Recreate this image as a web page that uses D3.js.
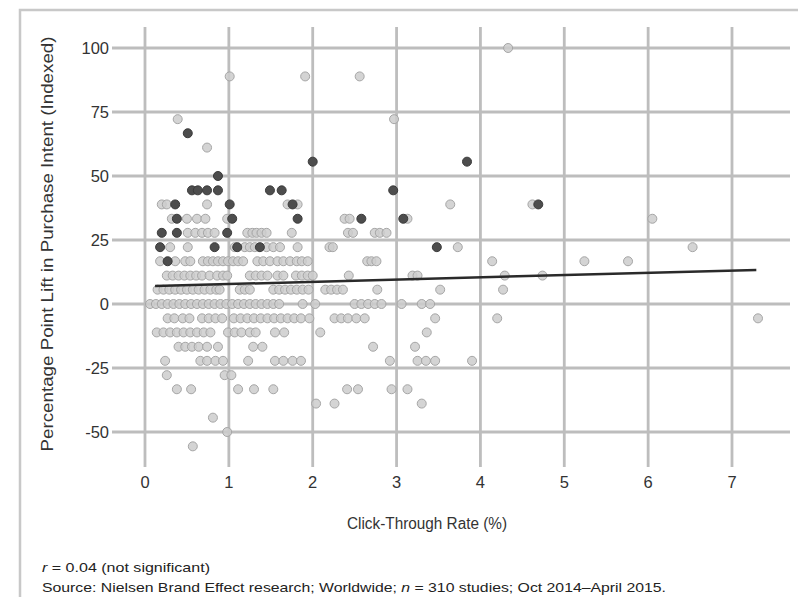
<!DOCTYPE html>
<html>
<head>
<meta charset="utf-8">
<script src="https://cdn.jsdelivr.net/npm/d3@7"></script>
<style>
  body{margin:0;background:#fff;}
  svg{display:block;font-family:"Liberation Sans",Arial,sans-serif;}
</style>
</head>
<body>
<svg id="chart" width="798" height="597"></svg>
<script>
// rows of studies: y value (indexed lift) -> click-through rates
const grayRows=[
  [100,[4.33]],
  [88.9,[1.01,1.91,2.56]],
  [72.2,[0.39,2.97]],
  [61.1,[0.74]],
  [38.9,[0.20,0.26,0.74,1.70,1.82,3.64,4.62]],
  [33.3,[0.32,0.50,0.62,0.72,0.98,2.38,2.44,3.13,6.05]],
  [27.8,[0.51,0.60,0.68,0.75,0.83,1.22,1.28,1.33,1.39,1.45,1.75,2.42,2.48,2.74,2.80,2.88]],
  [22.2,[0.30,0.51,1.07,1.19,1.25,1.31,1.45,1.53,1.61,1.82,2.20,2.24,3.73,6.53]],
  [16.7,[0.18,0.36,0.48,0.54,0.69,0.75,0.81,0.87,0.93,0.99,1.05,1.11,1.17,1.34,1.41,1.49,1.58,1.65,1.73,1.81,1.87,1.94,2.65,2.70,2.76,4.14,5.24,5.76]],
  [11.1,[0.26,0.33,0.40,0.47,0.54,0.61,0.68,0.77,0.86,0.93,0.98,1.25,1.32,1.39,1.46,1.58,1.65,1.80,1.87,1.94,2.00,2.43,3.19,3.25,4.29,4.74]],
  [5.6,[0.15,0.22,0.29,0.36,0.43,0.50,0.57,0.64,0.71,0.78,0.85,0.89,1.13,1.19,1.25,1.53,1.60,1.67,1.74,1.81,1.88,1.95,2.15,2.22,2.29,2.36,2.77,3.52,4.27]],
  [0,[0.06,0.13,0.20,0.27,0.34,0.41,0.48,0.55,0.62,0.69,0.76,0.83,0.90,0.97,1.04,1.11,1.18,1.25,1.32,1.39,1.46,1.53,1.60,1.88,2.03,2.50,2.58,2.66,2.74,2.82,3.06,3.30,3.40]],
  [-5.6,[0.27,0.35,0.45,0.53,0.68,0.76,0.84,0.92,1.06,1.14,1.22,1.30,1.38,1.46,1.54,1.62,1.70,1.78,1.86,1.96,2.26,2.34,2.42,2.52,2.62,3.46,4.20,7.31]],
  [-11.1,[0.14,0.22,0.30,0.38,0.46,0.54,0.62,0.70,0.78,0.99,1.07,1.15,1.25,1.32,1.55,1.66,2.09,3.36]],
  [-16.7,[0.40,0.48,0.56,0.64,0.74,0.87,1.29,1.40,2.72,3.22]],
  [-22.2,[0.24,0.66,0.74,0.84,0.93,1.23,1.55,1.65,1.76,1.86,2.92,3.25,3.35,3.46,3.90]],
  [-27.8,[0.26,0.95,1.03]],
  [-33.3,[0.38,0.55,1.11,1.30,1.53,2.41,2.54,2.94,3.13]],
  [-38.9,[2.04,2.26,3.30]],
  [-44.4,[0.81]],
  [-50,[0.98]],
  [-55.6,[0.57]]
];
const darkRows=[
  [66.7,[0.51]],
  [55.6,[2.00,3.84]],
  [50,[0.87]],
  [44.4,[0.56,0.63,0.74,0.87,1.49,1.63,2.96]],
  [38.9,[0.36,1.01,1.76,4.69]],
  [33.3,[0.38,1.04,1.82,2.58,3.08]],
  [27.8,[0.20,0.38,0.98]],
  [22.2,[0.18,0.83,1.10,1.37,3.48]],
  [16.7,[0.27]]
];
const trendLine=[[0.12,7.0],[7.29,13.3]];
const xTicks=[0,1,2,3,4,5,6,7];
const yTicks=[-50,-25,0,25,50,75,100];
const xTitle="Click-Through Rate (%)";
const yTitle="Percentage Point Lift in Purchase Intent (Indexed)";
const noteR="= 0.04 (not significant)";
const sourceText=["Source: Nielsen Brand Effect research; Worldwide; ","n"," = 310 studies; Oct 2014\u2013April 2015."];

const flat=rows=>rows.flatMap(([y,xs])=>xs.map(x=>({x,y})));
const grayPts=flat(grayRows), darkPts=flat(darkRows);

const svg=d3.select("#chart");
const x=d3.scaleLinear().domain([0,7]).range([145,732]);
const y=d3.scaleLinear().domain([-50,100]).range([432,48]);
const ink="#333", grid="#bdbdbd";

// outer frame
svg.append("rect").attr("x",20).attr("y",10).attr("width",800).attr("height",600)
  .attr("fill","none").attr("stroke","#c8c8c8").attr("stroke-width",2.5);

// grid
svg.append("g").selectAll("line").data(yTicks).enter().append("line")
  .attr("x1",112).attr("x2",790).attr("y1",d=>y(d)).attr("y2",d=>y(d))
  .attr("stroke",grid).attr("stroke-width",2.8);
svg.append("g").selectAll("line").data(xTicks).enter().append("line")
  .attr("x1",d=>x(d)).attr("x2",d=>x(d)).attr("y1",27).attr("y2",467)
  .attr("stroke",grid).attr("stroke-width",2.8);

// tick labels
svg.append("g").selectAll("text").data(yTicks).enter().append("text")
  .attr("x",109).attr("y",d=>y(d)).attr("dy","0.36em").attr("text-anchor","end")
  .attr("font-size",16.5).attr("fill",ink).text(d=>d);
svg.append("g").selectAll("text").data(xTicks).enter().append("text")
  .attr("x",d=>x(d)).attr("y",488).attr("text-anchor","middle")
  .attr("font-size",16.5).attr("fill",ink).text(d=>d);

// points
svg.append("g").selectAll("circle").data(grayPts).enter().append("circle")
  .attr("cx",d=>x(d.x)).attr("cy",d=>y(d.y)).attr("r",4.5)
  .attr("fill","#cdcdcd").attr("fill-opacity",0.85).attr("stroke","#a6a6a6").attr("stroke-width",1);
svg.append("g").selectAll("circle").data(darkPts).enter().append("circle")
  .attr("cx",d=>x(d.x)).attr("cy",d=>y(d.y)).attr("r",4.5)
  .attr("fill","#4d4d4d").attr("stroke","#3a3a3a").attr("stroke-width",1);

// trend line
svg.append("path").datum(trendLine)
  .attr("d",d3.line().x(d=>x(d[0])).y(d=>y(d[1])))
  .attr("fill","none").attr("stroke","#2a2a2a").attr("stroke-width",2.5);

// axis titles
svg.append("text").attr("x",427).attr("y",529).attr("text-anchor","middle")
  .attr("font-size",16).attr("fill",ink)
  .attr("textLength",160).attr("lengthAdjust","spacingAndGlyphs").text(xTitle);
svg.append("text").attr("transform","translate(53,244) rotate(-90)")
  .attr("text-anchor","middle").attr("font-size",16).attr("fill",ink)
  .attr("textLength",415).attr("lengthAdjust","spacingAndGlyphs").text(yTitle);

// notes
const n1=svg.append("text").attr("x",42).attr("y",572).attr("font-size",13.5).attr("fill","#222")
  .attr("textLength",168).attr("lengthAdjust","spacingAndGlyphs");
n1.append("tspan").attr("font-style","italic").text("r");
n1.append("tspan").text(" "+noteR);
const n2=svg.append("text").attr("x",42).attr("y",592).attr("font-size",13.5).attr("fill","#222")
  .attr("textLength",624).attr("lengthAdjust","spacingAndGlyphs");
n2.append("tspan").text(sourceText[0]);
n2.append("tspan").attr("font-style","italic").text(sourceText[1]);
n2.append("tspan").text(sourceText[2]);
</script>
</body>
</html>
